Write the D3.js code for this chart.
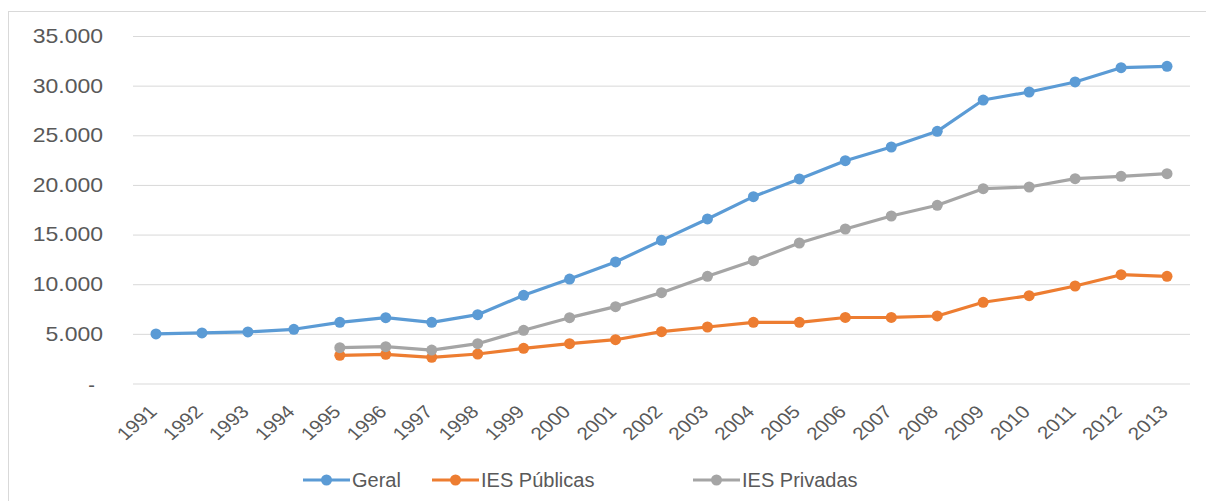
<!DOCTYPE html>
<html>
<head>
<meta charset="utf-8">
<script src="https://cdn.jsdelivr.net/npm/d3@7"></script>
<style>
  html, body { margin: 0; padding: 0; background: #fff; }
  svg { display: block; font-family: "Liberation Sans", Arial, sans-serif; }
</style>
</head>
<body>
<svg id="chart" width="1206" height="501"></svg>
<script>
// Years on the category axis
const years = ["1991","1992","1993","1994","1995","1996","1997","1998","1999","2000","2001","2002",
  "2003","2004","2005","2006","2007","2008","2009","2010","2011","2012","2013"];

// Series values (null = no data for that year)
const geral = [4990, 5090, 5190, 5460, 6160, 6630, 6160, 6930, 8880, 10520, 12240, 14420,
  16570, 18820, 20600, 22440, 23820, 25400, 28550, 29360, 30370, 31810, 31950];
const publicas = [null, null, null, null, 2840, 2940, 2640, 2970, 3540, 4010, 4410, 5220,
  5690, 6160, 6160, 6650, 6660, 6800, 8180, 8850, 9820, 10960, 10790];
const privadas = [null, null, null, null, 3610, 3710, 3370, 4010, 5360, 6630, 7740, 9150,
  10800, 12370, 14150, 15560, 16870, 17950, 19620, 19790, 20630, 20870, 21130];

// Value axis ticks
const yTicks = [0, 5000, 10000, 15000, 20000, 25000, 30000, 35000];

const seriesNames = ["Geral", "IES Públicas", "IES Privadas"];
const seriesColors = ["#5B9BD5", "#ED7D31", "#A5A5A5"];

const series = [
  { name: seriesNames[0], color: seriesColors[0], values: geral },
  { name: seriesNames[1], color: seriesColors[1], values: publicas },
  { name: seriesNames[2], color: seriesColors[2], values: privadas }
];

const svg = d3.select("#chart");

// chart frame
svg.append("rect")
  .attr("x", 8.5).attr("y", 11.5)
  .attr("width", 1300).attr("height", 600)
  .attr("fill", "#fff")
  .attr("stroke", "#D9D9D9").attr("stroke-width", 1);

const plot = { left: 133, right: 1190, top: 36, bottom: 383.5 };

const x = d3.scaleBand().domain(years).range([plot.left, plot.right]);
const y = d3.scaleLinear().domain([0, 35000]).range([plot.bottom, plot.top]);

const fmt = v => v === 0 ? "-" : d3.format(",")(v).replace(/,/g, ".");

// value axis with gridlines
const yAxis = svg.append("g")
  .attr("transform", `translate(${plot.left},0)`)
  .call(d3.axisLeft(y).tickValues(yTicks).tickFormat(fmt)
    .tickSize(-(plot.right - plot.left)).tickPadding(26));
yAxis.select(".domain").remove();
yAxis.selectAll(".tick line").attr("stroke", "#D9D9D9").attr("stroke-width", 1);
yAxis.selectAll(".tick text")
  .attr("fill", "#595959")
  .attr("font-size", 20)
  .attr("transform", d => d === 0 ? "translate(-12,2)" : "scale(1.15,1)");

// category axis
const xAxis = svg.append("g")
  .attr("transform", `translate(0,${plot.bottom})`)
  .call(d3.axisBottom(x).tickSize(0));
xAxis.select(".domain").remove();
xAxis.selectAll(".tick text")
  .attr("fill", "#595959")
  .attr("font-size", 18)
  .attr("text-anchor", "end")
  .attr("x", 0).attr("y", 0).attr("dy", "0.35em")
  .attr("transform", "translate(-3,25) scale(1.15,1) rotate(-45)");

const line = d3.line()
  .defined(d => d.v != null)
  .x(d => x(d.year) + x.bandwidth() / 2)
  .y(d => y(d.v));

series.forEach(s => {
  const pts = years.map((yr, i) => ({ year: yr, v: s.values[i] }));
  const g = svg.append("g");
  g.append("path")
    .datum(pts)
    .attr("d", line)
    .attr("fill", "none")
    .attr("stroke", s.color)
    .attr("stroke-width", 3.2)
    .attr("stroke-linejoin", "round");
  g.selectAll("circle")
    .data(pts.filter(d => d.v != null))
    .join("circle")
    .attr("cx", d => x(d.year) + x.bandwidth() / 2)
    .attr("cy", d => y(d.v))
    .attr("r", 5.5)
    .attr("fill", s.color);
});

// legend
const legendX = [303, 432, 693];
const legendY = 480;
const leg = svg.append("g");
series.forEach((s, i) => {
  const g = leg.append("g").attr("transform", `translate(${legendX[i]},${legendY})`);
  g.append("line").attr("x1", 0).attr("x2", 47).attr("y1", 0).attr("y2", 0)
    .attr("stroke", s.color).attr("stroke-width", 3.2);
  g.append("circle").attr("cx", 23.5).attr("cy", 0).attr("r", 5.5).attr("fill", s.color);
  g.append("text").attr("x", 49).attr("y", 0).attr("dy", "0.35em")
    .attr("fill", "#595959").attr("font-size", 20)
    .text(s.name);
});
</script>
</body>
</html>
